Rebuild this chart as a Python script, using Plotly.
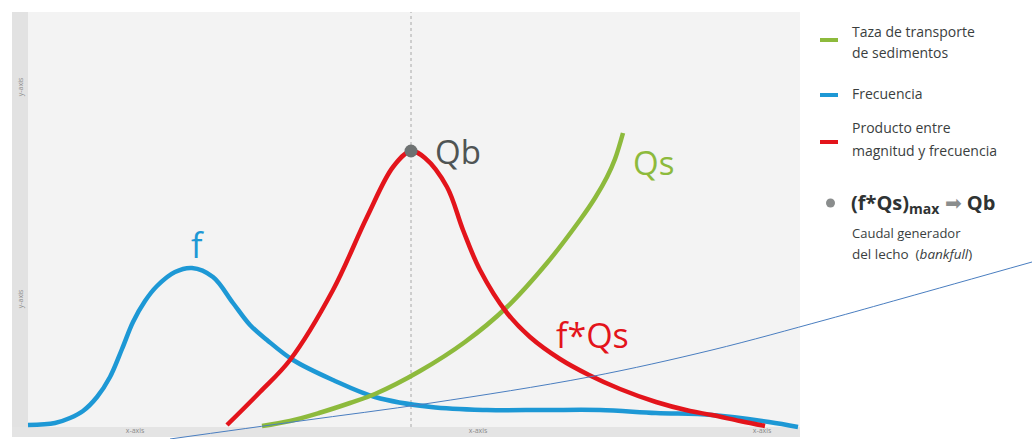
import plotly.graph_objects as go

# ---- data (x = discharge position, y = height above baseline) ----
freq_x = [28, 55, 70, 83, 97, 110, 122, 133, 145, 157, 175, 192, 213, 233, 250, 267, 293, 333, 375, 431, 487, 545, 600, 656, 712, 769, 798]
freq_y = [2, 4, 9, 16, 30, 50, 78, 105, 126, 141, 155, 159, 150, 124, 102, 87, 67, 47, 30, 20, 17, 17, 17, 14, 12, 5, 0]

prod_x = [227, 260, 290, 333, 367, 393, 411, 425, 447, 463, 480, 507, 530, 560, 589, 620, 656, 690, 712, 740, 765]
prod_y = [2, 35, 67, 137, 210, 260, 276, 269, 240, 197, 157, 114, 90, 68, 52, 38, 25, 16, 12, 6, 1]

sed_x = [262, 290, 319, 350, 375, 420, 465, 507, 547, 580, 595, 607, 615, 623]
sed_y = [1, 6, 14, 24, 33, 56, 85, 120, 164, 207, 229, 250, 268, 294]

qb_x = [411]
qb_y = [276]

# thin annotation stroke crossing the figure (figure pixel space)
stroke_x = [170, 300, 431, 589, 712, 825, 904, 1032]
stroke_y = [439, 421, 403, 377, 350, 320, 298, 262]

x_tick_vals = [135, 478, 762]
x_tick_text = ["x-axis", "x-axis", "x-axis"]
y_tick_vals = [339, 127]
y_tick_text = ["y-axis", "y-axis"]

GREEN = "#8dba3c"
BLUE = "#1d98d5"
RED = "#e3141b"
GRAY = "#6e7272"
TXT = "#3a3e3e"
FONT = "Open Sans"

W, H = 1032, 439
X0, X1 = 12, 800      # plot area in figure pixels
Y0, Y1 = 12, 427      # top / data baseline
YB = 437              # bottom of gray strip

def px(x):
    return x / W

def py(y):
    return 1 - y / H

fig = go.Figure()

fig.add_trace(go.Scatter(x=freq_x, y=freq_y, mode="lines", line=dict(color=BLUE, width=4.5, shape="spline", smoothing=1.0),
                         name="Frecuencia", showlegend=False, xaxis="x", yaxis="y"))
fig.add_trace(go.Scatter(x=sed_x, y=sed_y, mode="lines", line=dict(color=GREEN, width=4.5, shape="spline", smoothing=1.0),
                         name="Taza de transporte de sedimentos", showlegend=False, xaxis="x", yaxis="y"))
fig.add_trace(go.Scatter(x=prod_x, y=prod_y, mode="lines", line=dict(color=RED, width=4.5, shape="spline", smoothing=1.0),
                         name="Producto entre magnitud y frecuencia", showlegend=False, xaxis="x", yaxis="y"))
fig.add_trace(go.Scatter(x=qb_x, y=qb_y, mode="markers", marker=dict(color=GRAY, size=13),
                         name="Qb", showlegend=False, xaxis="x", yaxis="y"))

# overlay stroke in full-figure coordinates
fig.add_trace(go.Scatter(x=stroke_x, y=stroke_y, mode="lines", line=dict(color="#4a7ec0", width=1, shape="spline"),
                         showlegend=False, hoverinfo="skip", xaxis="x2", yaxis="y2"))

shapes = []
# plot background (paper refs so they sit below every subplot)
shapes.append(dict(type="rect", xref="paper", yref="paper", x0=px(X0), x1=px(X1), y0=py(YB), y1=py(Y0),
                   fillcolor="#f3f3f3", line_width=0, layer="below"))
shapes.append(dict(type="rect", xref="paper", yref="paper", x0=px(X0), x1=px(28), y0=py(YB), y1=py(Y0),
                   fillcolor="#e2e2e2", line_width=0, layer="below"))
shapes.append(dict(type="rect", xref="paper", yref="paper", x0=px(X0), x1=px(X1), y0=py(YB), y1=py(Y1),
                   fillcolor="#e4e4e4", line_width=0, layer="below"))
# dotted vertical line through Qb
shapes.append(dict(type="line", xref="x", yref="paper", x0=qb_x[0], x1=qb_x[0], y0=py(Y1), y1=py(Y0),
                   line=dict(color="#a8a8a8", width=1, dash="dot"), layer="below"))

# legend marks
leg_lines = [(40, GREEN), (95, BLUE), (142, RED)]
for yy, c in leg_lines:
    shapes.append(dict(type="line", xref="paper", yref="paper", x0=px(820), x1=px(838), y0=py(yy), y1=py(yy),
                       line=dict(color=c, width=4)))
shapes.append(dict(type="circle", xref="paper", yref="paper", x0=px(826), x1=px(835), y0=py(207.5), y1=py(198.5),
                   fillcolor="#8a8d8d", line_width=0))

ann = []
def label(x, y, text, size, color, ref="paper", xanchor="left", **kw):
    if ref == "paper":
        xx, yy, xr, yr = px(x), py(y), "paper", "paper"
    else:
        xx, yy, xr, yr = x, y, "x", "y"
    ann.append(dict(x=xx, y=yy, xref=xr, yref=yr, text=text, showarrow=False,
                    font=dict(family=FONT, size=size, color=color), xanchor=xanchor, yanchor="middle", **kw))

# curve labels (data coordinates)
label(197, 182, "f", 34, BLUE, ref="data", xanchor="center")
label(433, 276, "Qb", 33, "#4f5454", ref="data")
label(631, 265, "Qs", 33, GREEN, ref="data")
label(554, 92, "f*Qs", 34, RED, ref="data")

# legend texts
label(850, 31, "Taza de transporte", 14, TXT)
label(850, 52, "de sedimentos", 14, TXT)
label(850, 93, "Frecuencia", 14, TXT)
label(850, 128, "Producto entre", 14, TXT)
label(850, 150, "magnitud y frecuencia", 14, TXT)
label(849, 203, "<b>(f*Qs)</b><sub><b>max</b></sub> <span style='color:#8a8d8d'>➡</span> <b>Qb</b>", 20, "#2f3333")
label(850, 233, "Caudal generador", 13, TXT)
label(850, 254, "del lecho&nbsp;&nbsp;(<i>bankfull</i>)", 13.5, TXT)

fig.update_layout(
    width=W, height=H,
    margin=dict(l=0, r=0, t=0, b=0),
    paper_bgcolor="white",
    plot_bgcolor="rgba(0,0,0,0)",
    shapes=shapes,
    annotations=ann,
    xaxis=dict(domain=[px(X0), px(X1)], range=[X0, X1], showgrid=False, zeroline=False,
               tickvals=x_tick_vals, ticktext=x_tick_text, ticks="", ticklabelposition="inside",
               tickfont=dict(family=FONT, size=7, color="#8a8a8a"), anchor="y", fixedrange=True),
    yaxis=dict(domain=[py(YB), py(Y0)], range=[Y1 - YB, Y1 - Y0], showgrid=False, zeroline=False,
               tickvals=y_tick_vals, ticktext=y_tick_text, ticks="", ticklabelposition="inside",
               tickangle=-90, tickfont=dict(family=FONT, size=7, color="#8a8a8a"), anchor="x", fixedrange=True),
    xaxis2=dict(domain=[0, 1], range=[0, W], visible=False, anchor="y2", fixedrange=True),
    yaxis2=dict(domain=[0, 1], range=[H, 0], visible=False, anchor="x2", fixedrange=True),
)

fig.write_html("out.html", config={"displayModeBar": False},
               post_script="document.body.style.margin='0px';document.body.style.overflow='hidden';")
